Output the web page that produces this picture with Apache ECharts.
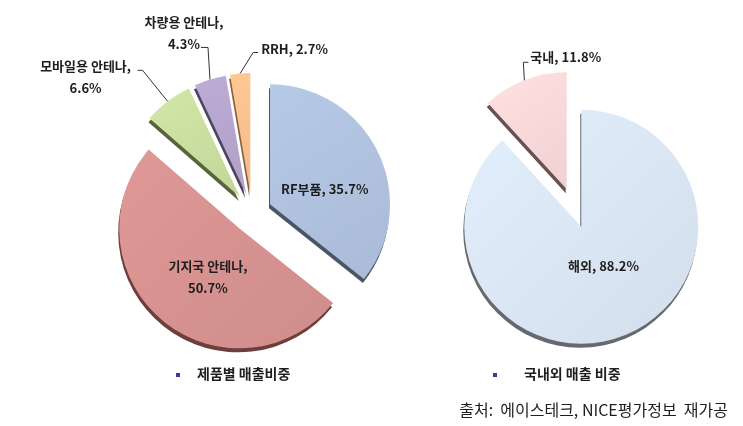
<!DOCTYPE html>
<html>
<head>
<meta charset="utf-8">
<script src="https://cdn.jsdelivr.net/npm/echarts@6/dist/echarts.min.js"></script>
<style>
html, body { margin: 0; padding: 0; background: #fff; }
#chart { width: 743px; height: 426px; }
</style>
</head>
<body>
<div id="chart"></div>
<script>
/* 제품별 매출비중 */
var productNames = ['RF부품', '기지국 안테나', '모바일용 안테나', '차량용 안테나', 'RRH'];
var productShares = [35.7, 50.7, 6.6, 4.3, 2.7];
/* 국내외 매출 비중 */
var regionNames = ['해외', '국내'];
var regionShares = [88.2, 11.8];

var productColors = ['#a9bbd6', '#cf8d8b', '#c3d69b', '#afa0c7', '#f2ba89'];
var productEdges = ['#4a5666', '#6e3e3c', '#59633c', '#4d4460', '#8a6040'];
var regionColors = ['#d3deeb', '#f0d1d1'];
var regionEdges = ['#666a70', '#6a5050'];

var FONT = '"Noto Sans CJK KR", sans-serif';
var EXPLODE = 20;
var leftCenter = [252, 213], leftRadius = 120;
var rightCenter = [574, 208], rightRadius = 117;

var grad = function (c) {
    return new echarts.graphic.LinearGradient(0, 0, 1, 1, [
        { offset: 0, color: echarts.color.lift(c, -0.08) },
        { offset: 1, color: c }
    ]);
};

var labelText = function (p) {
    if (p.name.indexOf('안테나') >= 0) {
        return p.name + ',\n' + p.value + '%';
    }
    return p.name + ', ' + p.value + '%';
};

/* 분리된 조각의 바깥 끝점 (지시선 시작점) */
var pushOut = function (pt, c, r) {
    var k = (r + 0.0) === 0 ? 0 : EXPLODE / r;
    return [pt[0] + (pt[0] - c[0]) * k, pt[1] + (pt[1] - c[1]) * k];
};

/* 바깥 라벨 위치 (엑셀 스타일 지시선) */
var productOuterLayout = function (p) {
    if (!p.labelLinePoints) return {};
    var s = pushOut(p.labelLinePoints[0], leftCenter, leftRadius);
    var i = p.dataIndex, a, b;
    if (i === 2) {
        a = [s[0] - 25, s[1] - 31]; b = [a[0] - 5, a[1]];
        return { x: b[0] - 52, y: b[1] + 7, align: 'center', verticalAlign: 'middle',
                 labelLinePoints: [s, a, b], hideOverlap: false };
    }
    if (i === 3) {
        a = [s[0] - 2, s[1] - 32]; b = [a[0] - 7, a[1]];
        return { x: b[0] - 17, y: b[1] - 14, align: 'center', verticalAlign: 'middle',
                 labelLinePoints: [s, a, b], hideOverlap: false };
    }
    a = [s[0] + 13, s[1] - 21]; b = [a[0] + 5, a[1]];
    return { x: b[0] + 3, y: b[1] - 3, align: 'left', verticalAlign: 'middle',
             labelLinePoints: [s, a, b], hideOverlap: false };
};

var regionOuterLayout = function (p) {
    if (!p.labelLinePoints) return {};
    var s = pushOut(p.labelLinePoints[0], rightCenter, rightRadius);
    var a = [s[0] - 1, s[1] - 18], b = [a[0] + 5, a[1]];
    return { x: b[0] + 2, y: b[1] - 5, align: 'left', verticalAlign: 'middle',
             labelLinePoints: [s, a, b], hideOverlap: false };
};

var innerShift = {
    '0-0': [-2, 12], '0-1': [9, 0], '1-0': [0, -18]
};
var innerLayout = function (p) {
    var d = innerShift[p.seriesIndex + '-' + p.dataIndex];
    return d ? { dx: d[0], dy: d[1] } : {};
};

/* 조각 (내부 라벨만) */
var productData = [], productOuter = [];
productNames.forEach(function (name, i) {
    var big = i < 2;
    productData.push({
        name: name,
        value: productShares[i],
        selected: true,
        itemStyle: { color: grad(productColors[i]), shadowColor: productEdges[i] },
        label: { show: big, position: 'inside' }
    });
    productOuter.push({
        name: name,
        value: productShares[i],
        label: { show: !big, position: 'outside' },
        labelLine: { show: !big }
    });
});

var regionData = [], regionOuter = [];
regionNames.forEach(function (name, i) {
    regionData.push({
        name: name,
        value: regionShares[i],
        selected: true,
        itemStyle: { color: grad(regionColors[i]), shadowColor: regionEdges[i] },
        label: { show: i === 0, position: 'inside' }
    });
    regionOuter.push({
        name: name,
        value: regionShares[i],
        label: { show: i !== 0, position: 'outside' },
        labelLine: { show: i !== 0 }
    });
});

var myChart = echarts.init(document.getElementById('chart'));

var labelStyle = {
    formatter: labelText,
    color: '#1e1e1e',
    fontFamily: FONT,
    fontSize: 13,
    fontWeight: 'bold',
    lineHeight: 22
};

var pieBase = {
    type: 'pie',
    startAngle: 90,
    clockwise: true,
    avoidLabelOverlap: false,
    animation: false,
    emphasis: { disabled: true },
    label: labelStyle
};

var slices = Object.assign({}, pieBase, {
    selectedMode: 'multiple',
    selectedOffset: EXPLODE,
    itemStyle: { shadowBlur: 0, shadowOffsetX: -1, shadowOffsetY: 4 },
    labelLine: { show: false },
    labelLayout: innerLayout
});

var outerLabels = Object.assign({}, pieBase, {
    selectedMode: false,
    silent: true,
    z: 3,
    itemStyle: { color: 'rgba(0,0,0,0)' },
    labelLine: { length: 14, length2: 8, lineStyle: { color: '#333', width: 1 } }
});

var titleStyle = { fontFamily: FONT, fontSize: 14, fontWeight: 'bold', color: '#1e1e1e' };

var options = {
    backgroundColor: '#fff',
    title: [
        { text: '제품별 매출비중', left: 197, top: 367, padding: 0, textStyle: titleStyle },
        { text: '국내외 매출 비중', left: 524, top: 367, padding: 0, textStyle: titleStyle },
        {
            text: '출처:  에이스테크, NICE평가정보  재가공',
            right: 15, top: 402, padding: 0,
            textStyle: { fontFamily: FONT, fontSize: 16, fontWeight: 'normal', color: '#1e1e1e' }
        }
    ],
    graphic: [
        { type: 'rect', shape: { x: 176, y: 373, width: 4, height: 4 }, style: { fill: '#3a3a9a' } },
        { type: 'rect', shape: { x: 493, y: 373, width: 4, height: 4 }, style: { fill: '#3a3a9a' } }
    ],
    series: [
        Object.assign({}, slices, {
            name: '제품별 매출비중',
            center: leftCenter, radius: [0, leftRadius],
            data: productData
        }),
        Object.assign({}, slices, {
            name: '국내외 매출 비중',
            center: rightCenter, radius: [0, rightRadius],
            data: regionData
        }),
        Object.assign({}, outerLabels, {
            center: leftCenter, radius: [0, leftRadius],
            labelLayout: productOuterLayout,
            data: productOuter
        }),
        Object.assign({}, outerLabels, {
            center: rightCenter, radius: [0, rightRadius],
            labelLayout: regionOuterLayout,
            data: regionOuter
        })
    ]
};
myChart.setOption(options);
</script>
</body>
</html>
